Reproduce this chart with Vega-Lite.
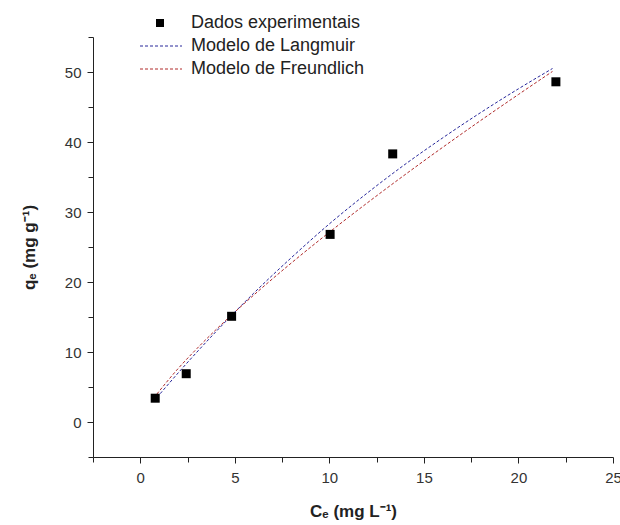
{
  "$schema": "https://vega.github.io/schema/vega-lite/v6.json",
  "width": 520,
  "height": 420,
  "autosize": "none",
  "padding": {"left": 93, "top": 37, "right": 7, "bottom": 68},
  "background": "white",
  "config": {
    "view": {"stroke": null},
    "font": "Liberation Sans",
    "axis": {"grid": false, "domainColor": "#222", "tickColor": "#222", "labelColor": "#333", "labelFontSize": 15, "titleFontSize": 17, "titleFontWeight": "bold", "titleColor": "#222", "labelFont": "Liberation Sans", "titleFont": "Liberation Sans"}
  },
  "datasets": {
    "pts": [
      {"C": 0.79, "q": 3.4, "serie": "Dados experimentais"},
      {"C": 2.43, "q": 6.9, "serie": "Dados experimentais"},
      {"C": 4.83, "q": 15.1, "serie": "Dados experimentais"},
      {"C": 10.04, "q": 26.8, "serie": "Dados experimentais"},
      {"C": 13.35, "q": 38.3, "serie": "Dados experimentais"},
      {"C": 21.98, "q": 48.6, "serie": "Dados experimentais"}
    ],
    "fit": [
      {"C": 0.88, "q": 3.5, "modelo": "Modelo de Langmuir"},
      {"C": 2, "q": 7.0, "modelo": "Modelo de Langmuir"},
      {"C": 3, "q": 10.0, "modelo": "Modelo de Langmuir"},
      {"C": 4, "q": 12.9, "modelo": "Modelo de Langmuir"},
      {"C": 5, "q": 15.7, "modelo": "Modelo de Langmuir"},
      {"C": 6, "q": 18.4, "modelo": "Modelo de Langmuir"},
      {"C": 8, "q": 23.5, "modelo": "Modelo de Langmuir"},
      {"C": 10, "q": 28.3, "modelo": "Modelo de Langmuir"},
      {"C": 12, "q": 32.7, "modelo": "Modelo de Langmuir"},
      {"C": 14, "q": 36.8, "modelo": "Modelo de Langmuir"},
      {"C": 16, "q": 40.6, "modelo": "Modelo de Langmuir"},
      {"C": 18, "q": 44.2, "modelo": "Modelo de Langmuir"},
      {"C": 20, "q": 47.6, "modelo": "Modelo de Langmuir"},
      {"C": 21.8, "q": 50.5, "modelo": "Modelo de Langmuir"},
      {"C": 0.88, "q": 4.0, "modelo": "Modelo de Freundlich"},
      {"C": 2, "q": 7.63, "modelo": "Modelo de Freundlich"},
      {"C": 3, "q": 10.5, "modelo": "Modelo de Freundlich"},
      {"C": 4, "q": 13.18, "modelo": "Modelo de Freundlich"},
      {"C": 5, "q": 15.71, "modelo": "Modelo de Freundlich"},
      {"C": 6, "q": 18.13, "modelo": "Modelo de Freundlich"},
      {"C": 8, "q": 22.74, "modelo": "Modelo de Freundlich"},
      {"C": 10, "q": 27.11, "modelo": "Modelo de Freundlich"},
      {"C": 12, "q": 31.29, "modelo": "Modelo de Freundlich"},
      {"C": 14, "q": 35.33, "modelo": "Modelo de Freundlich"},
      {"C": 16, "q": 39.25, "modelo": "Modelo de Freundlich"},
      {"C": 18, "q": 43.07, "modelo": "Modelo de Freundlich"},
      {"C": 20, "q": 46.79, "modelo": "Modelo de Freundlich"},
      {"C": 21.8, "q": 50.08, "modelo": "Modelo de Freundlich"}
    ]
  },
  "resolve": {"axis": {"x": "independent", "y": "independent"}},
  "layer": [
    {
      "data": {"name": "fit"},
      "mark": {"type": "line", "strokeWidth": 1, "strokeDash": [3, 2], "interpolate": "monotone"},
      "encoding": {
        "x": {"field": "C", "type": "quantitative", "scale": {"domain": [-2.5, 25], "nice": false, "zero": false},
          "axis": {"title": "Cₑ (mg L⁻¹)", "orient": "bottom", "values": [0, 5, 10, 15, 20, 25], "tickSize": 6, "labelPadding": 7, "titlePadding": 18, "labelFlush": false, "labelOverlap": false}},
        "y": {"field": "q", "type": "quantitative", "scale": {"domain": [-5, 55], "nice": false, "zero": false},
          "axis": {"title": "qₑ (mg g⁻¹)", "orient": "left", "values": [0, 10, 20, 30, 40, 50], "tickSize": 6, "labelPadding": 6, "titlePadding": 26, "labelFlush": false, "labelOverlap": false}},
        "color": {"field": "modelo", "type": "nominal",
          "scale": {"domain": ["Modelo de Langmuir", "Modelo de Freundlich"], "range": ["#26269a", "#b02a2a"]},
          "legend": {"title": null, "orient": "none", "legendX": 59, "legendY": 0, "padding": 0, "symbolType": "M-5.25,0H5.25", "symbolSize": 64, "symbolStrokeWidth": 1, "symbolDash": [3, 2], "symbolFillColor": "transparent", "labelOffset": 21, "labelFontSize": 18, "labelLimit": 0, "labelColor": "#222", "labelFont": "Liberation Sans", "rowPadding": 5}},
        "detail": {"field": "modelo"}
      }
    },
    {
      "data": {"name": "pts"},
      "mark": {"type": "point", "shape": "square", "filled": true, "size": 81, "opacity": 1, "color": "#000"},
      "encoding": {
        "x": {"field": "C", "type": "quantitative", "axis": {"title": null, "orient": "bottom", "labels": false, "domain": false, "values": [-2.5, 2.5, 7.5, 12.5, 17.5, 22.5], "tickSize": 5}},
        "y": {"field": "q", "type": "quantitative", "axis": {"title": null, "orient": "left", "labels": false, "domain": false, "values": [-5, 5, 15, 25, 35, 45, 55], "tickSize": 5}},
        "shape": {"field": "serie", "type": "nominal", "scale": {"range": ["square"]},
          "legend": {"title": null, "orient": "none", "legendX": 58, "legendY": -23, "padding": 0, "symbolSize": 64, "symbolFillColor": "#000", "symbolStrokeWidth": 0, "labelOffset": 22, "labelFontSize": 18, "labelLimit": 0, "labelColor": "#222", "labelFont": "Liberation Sans"}}
      }
    }
  ]
}
